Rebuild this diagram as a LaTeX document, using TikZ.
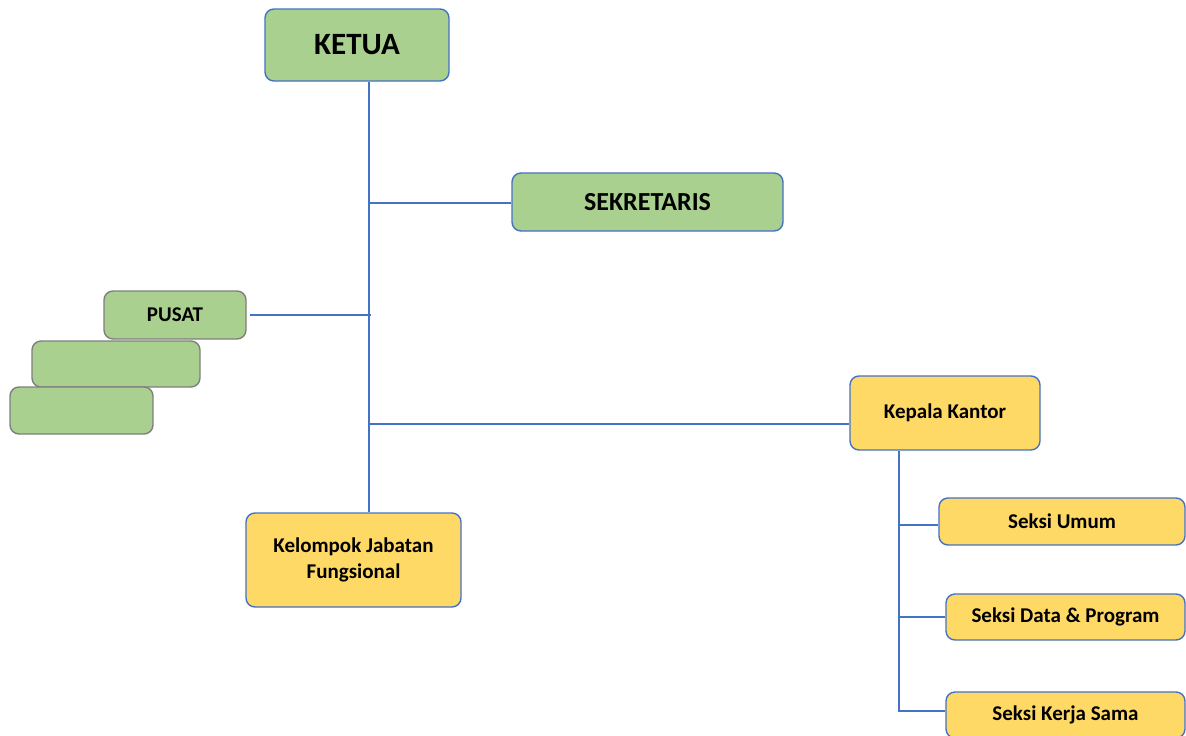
\documentclass[tikz,border=0pt]{standalone}
\usepackage{fontspec}
\setmainfont{Carlito}
\definecolor{grn}{HTML}{A9D08E}
\definecolor{ylw}{HTML}{FFD966}
\definecolor{blu}{HTML}{4472C4}
\definecolor{gry}{HTML}{7F7F7F}
\tikzset{
  box/.style={draw=blu, line width=1.4pt, rounded corners=9pt, inner sep=0pt, align=center, font=\bfseries\fontsize{21}{26}\selectfont},
  gbox/.style={box, fill=grn},
  ybox/.style={box, fill=ylw},
  sbox/.style={box, fill=grn, draw=gry},
  conn/.style={draw=blu, line width=1.6pt}
}
\begin{document}
\begin{tikzpicture}[x=1pt,y=-1pt]
\useasboundingbox (0,0) rectangle (1186,736);
\begin{scope}
\clip (0,0) rectangle (1186,736);
\node[gbox, minimum width=184pt, minimum height=72pt, font=\bfseries\fontsize{31}{36}\selectfont] (KET) at (357,45) {KETUA};
\node[gbox, minimum width=271pt, minimum height=58pt, font=\bfseries\fontsize{26}{30}\selectfont] (SEK) at (647.5,202) {SEKRETARIS};
\node[sbox, minimum width=142pt, minimum height=48pt] (PUS) at (175,315) {PUSAT};
\node[sbox, minimum width=168pt, minimum height=46pt] (B2) at (116,364) {};
\node[sbox, minimum width=143pt, minimum height=47pt] (B3) at (81.5,410.5) {};
\node[ybox, minimum width=190pt, minimum height=74pt] (KK) at (945,413) {Kepala Kantor};
\node[ybox, minimum width=215pt, minimum height=94pt] (KEL) at (353.5,560) {Kelompok Jabatan\\Fungsional};
\node[ybox, minimum width=246pt, minimum height=47pt] (UM) at (1062,521.5) {Seksi Umum};
\node[ybox, minimum width=239pt, minimum height=46pt] (DP) at (1065.5,617) {Seksi Data \& Program};
\node[ybox, minimum width=239pt, minimum height=46pt] (KS) at (1065.5,715) {Seksi Kerja Sama};
\coordinate (trunk) at (369,0);
\coordinate (sub) at (899,0);
\draw[conn] (KET.south -| trunk) -- (KEL.north -| trunk);
\draw[conn] ([yshift=-1]SEK.west -| trunk) -- ([yshift=-1]SEK.west);
\draw[conn] ([xshift=3]PUS.east) -- ([xshift=2]PUS.east -| trunk);
\draw[conn] ([yshift=-11]KK.west -| trunk) -- ([yshift=-11]KK.west);
\draw[conn] (KK.south -| sub) -- ([yshift=4]KS.west -| sub) -- ([yshift=4]KS.west);
\draw[conn] ([yshift=-3.5]UM.west -| sub) -- ([yshift=-3.5]UM.west);
\draw[conn] (DP.west -| sub) -- (DP.west);
\end{scope}
\end{tikzpicture}
\end{document}
